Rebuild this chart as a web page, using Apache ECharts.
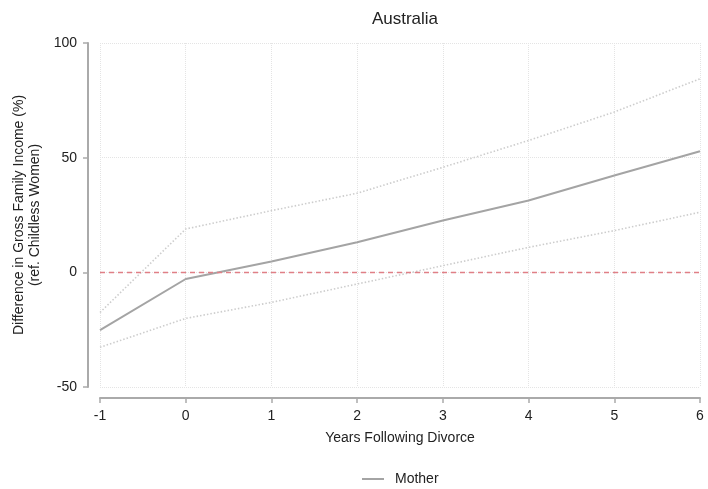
<!DOCTYPE html>
<html>
<head>
<meta charset="utf-8">
<script src="https://cdn.jsdelivr.net/npm/echarts@6/dist/echarts.min.js"></script>
<style>
html,body{margin:0;padding:0;background:#fff;}
#chart{width:708px;height:489px;}
</style>
</head>
<body>
<div id="chart"></div>
<script>
const years = [-1, 0, 1, 2, 3, 4, 5, 6];
const mother = [-25.2, -2.9, 4.7, 13.1, 22.6, 31.3, 42.2, 52.8];
const upperCI = [-17.5, 18.9, 26.9, 34.5, 45.8, 57.5, 69.9, 84.4];
const lowerCI = [-32.7, -20.1, -13.1, -5.1, 2.9, 10.9, 18.2, 26.2];

const pair = (ys) => years.map((x, i) => [x, ys[i]]);
const FONT = 'Liberation Sans, Arial, sans-serif';

const chart = echarts.init(document.getElementById('chart'), null, {renderer: 'canvas'});
chart.setOption({
  animation: false,
  backgroundColor: '#ffffff',
  textStyle: {fontFamily: FONT},
  title: {
    text: 'Australia',
    left: 400, textAlign: 'center', top: 6,
    textStyle: {fontFamily: FONT, fontSize: 17, fontWeight: 'normal', color: '#222'}
  },
  legend: {
    data: [{name: 'Mother', icon: 'rect'}],
    left: 357, top: 467,
    itemWidth: 22, itemHeight: 2,
    textStyle: {fontFamily: FONT, fontSize: 14, color: '#222', padding: [0, 0, 0, 6]}
  },
  grid: {left: 100, right: 8, top: 43, bottom: 102},
  xAxis: {
    type: 'value', min: -1, max: 6, interval: 1,
    offset: 11,
    name: 'Years Following Divorce',
    nameLocation: 'middle', nameGap: 33,
    nameTextStyle: {fontFamily: FONT, fontSize: 14, color: '#222'},
    axisLine: {show: true, onZero: false, lineStyle: {color: '#aaaaaa', width: 2}},
    axisTick: {show: true, length: 5, lineStyle: {color: '#aaaaaa', width: 1.5}},
    axisLabel: {fontFamily: FONT, fontSize: 14, color: '#222', margin: 11},
    splitLine: {show: true, lineStyle: {color: '#e4e4e4', type: 'dotted', width: 1}}
  },
  yAxis: {
    type: 'value', min: -50, max: 100, interval: 50,
    offset: 12,
    name: 'Difference in Gross Family Income (%)\n(ref. Childless Women)',
    nameLocation: 'middle', nameGap: 42, nameRotate: 90,
    nameTextStyle: {fontFamily: FONT, fontSize: 14, color: '#222', lineHeight: 16, align: 'center'},
    axisLine: {show: true, onZero: false, lineStyle: {color: '#aaaaaa', width: 2}},
    axisTick: {show: true, length: 5, lineStyle: {color: '#aaaaaa', width: 1.5}},
    axisLabel: {fontFamily: FONT, fontSize: 14, color: '#222', margin: 11},
    splitLine: {show: true, lineStyle: {color: '#e4e4e4', type: 'dotted', width: 1}}
  },
  series: [
    {
      name: 'Upper', type: 'line', data: pair(upperCI),
      symbol: 'none', silent: true,
      lineStyle: {color: '#cdcdcd', width: 1.6, type: [1.5, 2]},
      z: 2
    },
    {
      name: 'Lower', type: 'line', data: pair(lowerCI),
      symbol: 'none', silent: true,
      lineStyle: {color: '#cdcdcd', width: 1.6, type: [1.5, 2]},
      z: 2
    },
    {
      name: 'Mother', type: 'line', data: pair(mother),
      symbol: 'none',
      itemStyle: {color: '#a4a4a4'},
      lineStyle: {color: '#a4a4a4', width: 2},
      z: 4,
      markLine: {
        silent: true, symbol: 'none', label: {show: false},
        lineStyle: {color: '#e07f86', type: [5, 4], width: 1.3},
        data: [{yAxis: 0}]
      }
    }
  ]
});
</script>
</body>
</html>
